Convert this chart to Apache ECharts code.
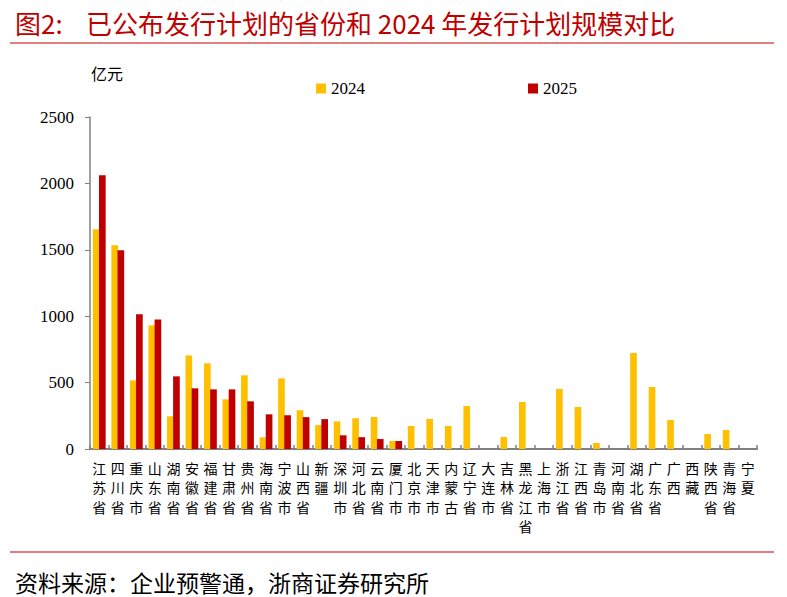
<!DOCTYPE html>
<html>
<head>
<meta charset="utf-8">
<script src="https://cdn.jsdelivr.net/npm/echarts@6/dist/echarts.min.js"></script>
<style>
html,body{margin:0;padding:0;background:#fff;}
#c{width:787px;height:597px;}
</style>
</head>
<body>
<div id="c"></div>
<script>
const categories = ['江苏省','四川省','重庆市','山东省','湖南省','安徽省','福建省','甘肃省','贵州省','海南省','宁波市','山西省','新疆','深圳市','河北省','云南省','厦门市','北京市','天津市','内蒙古','辽宁省','大连市','吉林省','黑龙江省','上海市','浙江省','江西省','青岛市','河南省','湖北省','广东省','广西','西藏','陕西省','青海省','宁夏'];
const values2024 = [1654,1534,517,931,246,705,645,374,555,88,532,292,180,208,232,241,60,173,226,173,324,null,90,354,null,452,316,45,null,723,467,218,null,113,143,null];
const values2025 = [2061,1496,1014,976,547,457,449,449,359,261,254,240,225,103,89,75,60,null,null,null,null,null,null,null,null,null,null,null,null,null,null,null,null,null,null,null];
const yTicks = {min: 0, max: 2500, interval: 500};

const serif = '"Liberation Serif","DejaVu Serif",serif';
const cjk = '"Noto Sans CJK SC","Liberation Serif",sans-serif';

const chart = echarts.init(document.getElementById('c'), null, {renderer: 'svg'});
chart.setOption({
  animation: false,
  backgroundColor: '#fff',
  title: [{
    text: '图2:    已公布发行计划的省份和 2024 年发行计划规模对比',
    left: 10, top: 4,
    textStyle: {color: '#C00000', fontSize: 26, fontWeight: 'normal', fontFamily: cjk}
  }, {
    text: '资料来源：企业预警通，浙商证券研究所',
    left: 10, top: 565,
    textStyle: {color: '#000', fontSize: 23, fontWeight: 'normal', fontFamily: cjk}
  }],
  graphic: [
    {type: 'line', shape: {x1: 10, y1: 43, x2: 774, y2: 43}, style: {stroke: '#C00000', lineWidth: 1.2}},
    {type: 'line', shape: {x1: 10, y1: 552, x2: 774, y2: 552}, style: {stroke: '#C00000', lineWidth: 1.2}},
    {type: 'text', left: 91, top: 65, style: {text: '亿元', fill: '#000', font: '16px ' + cjk}}
  ],
  legend: [{
    data: ['2024'], left: 311, top: 75, itemWidth: 10, itemHeight: 10, icon: 'rect',
    textStyle: {fontFamily: serif, fontSize: 17, color: '#000'}
  }, {
    data: ['2025'], left: 523, top: 75, itemWidth: 10, itemHeight: 10, icon: 'rect',
    textStyle: {fontFamily: serif, fontSize: 17, color: '#000'}
  }],
  grid: {left: 90, right: 30, top: 117, bottom: 148},
  xAxis: {
    type: 'category',
    data: categories,
    boundaryGap: true,
    axisLine: {lineStyle: {color: '#808080', width: 2}},
    axisTick: {show: true, inside: true, length: 4, lineStyle: {color: '#808080', width: 1.5}},
    axisLabel: {
      interval: 0, margin: 9, color: '#000', fontSize: 14, lineHeight: 19.5, fontFamily: cjk,
      verticalAlign: 'top',
      formatter: v => v.split('').join('\n')
    },
    splitLine: {show: false}
  },
  yAxis: {
    type: 'value',
    min: yTicks.min, max: yTicks.max, interval: yTicks.interval,
    axisLine: {show: true, lineStyle: {color: '#808080', width: 1.5}},
    axisTick: {show: true, inside: false, length: 5, lineStyle: {color: '#808080'}},
    axisLabel: {color: '#000', fontSize: 17, fontFamily: serif, margin: 16, formatter: v => String(v)},
    splitLine: {show: false}
  },
  series: [{
    name: '2024', type: 'bar', data: values2024,
    barWidth: '36%', barGap: '-8%',
    itemStyle: {color: '#FFC000'}
  }, {
    name: '2025', type: 'bar', data: values2025,
    barWidth: '36%', barGap: '-8%',
    itemStyle: {color: '#C00000'}
  }]
});
</script>
</body>
</html>
